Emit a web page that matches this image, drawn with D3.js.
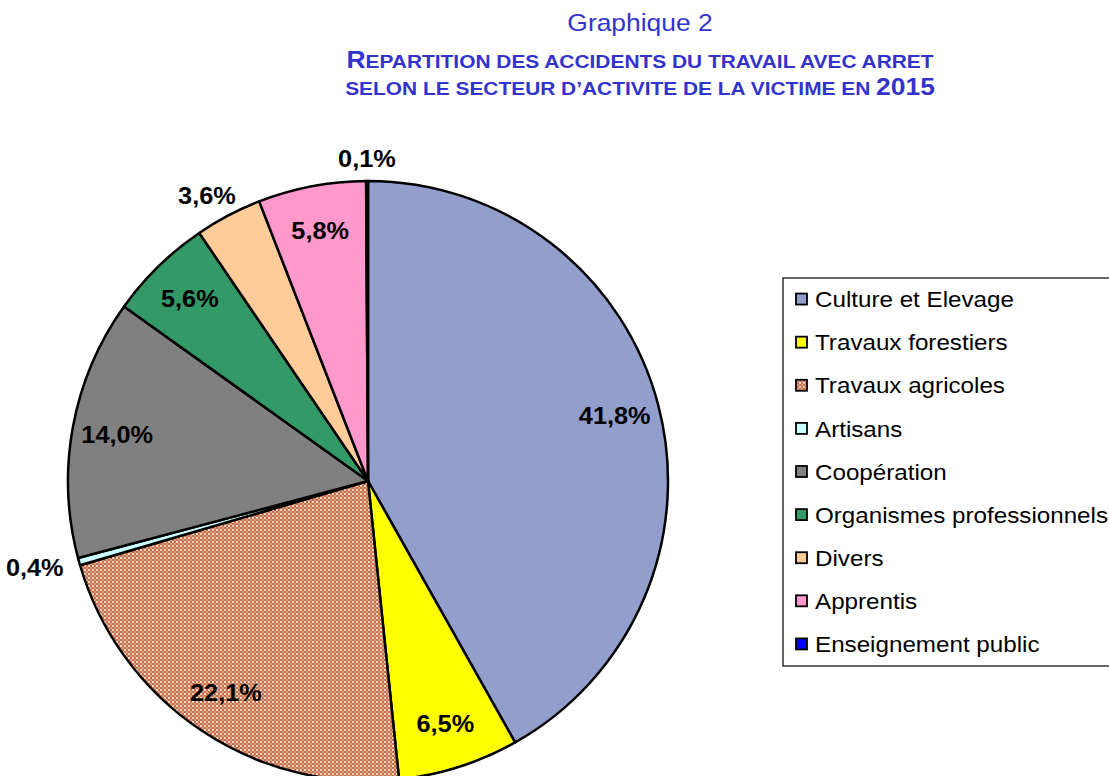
<!DOCTYPE html>
<html>
<head>
<meta charset="utf-8">
<style>
    body { margin: 0; background: #fff; }
    svg { font-family: Arial, 'Liberation Sans', sans-serif; }
</style>
</head>
<body>
<svg width="1109" height="776"></svg>
<script src="https://d3js.org/d3.v7.min.js"></script>
<script>
    // data
    let sectors = ["Culture et Elevage", "Travaux forestiers", "Travaux agricoles", "Artisans",
        "Coopération", "Organismes professionnels", "Divers", "Apprentis", "Enseignement public"]
    let values = [41.8, 6.5, 22.1, 0.4, 14.0, 5.6, 3.6, 5.8, 0.1]
    let labels = ["41,8%", "6,5%", "22,1%", "0,4%", "14,0%", "5,6%", "3,6%", "5,8%", "0,1%"]
    let colors = ["#929fcd", "#ffff00", "url(#agri)", "#ccffff", "#808080", "#339966", "#ffcc99", "#ff99cc", "#0000ff"]

    let width = 1109, height = 776
    let cx = 368, cy = 481, r = 300
    let sx = 1.1 // text in the original looks a bit wide

    let svg = d3.select("svg")

    // checker pattern for "Travaux agricoles"
    let defs = svg.append("defs")
    let pat = defs.append("pattern")
        .attr("id", "agri")
        .attr("patternUnits", "userSpaceOnUse")
        .attr("width", 4).attr("height", 4)
    pat.append("rect").attr("width", 4).attr("height", 4).attr("fill", "#c66b45")
    pat.append("rect").attr("width", 2).attr("height", 2).attr("fill", "#f4dccd")
    pat.append("rect").attr("x", 2).attr("y", 2).attr("width", 2).attr("height", 2).attr("fill", "#dea084")

    // titles
    let title = svg.append("g").attr("fill", "#3333cc").attr("text-anchor", "middle")
    title.append("text").attr("transform", `translate(640,31) scale(${sx},1)`).attr("font-size", 24).text("Graphique 2")
    let t2 = title.append("text").attr("transform", `translate(640,68) scale(${sx},1)`).attr("font-weight", "bold").attr("font-size", 19)
    t2.append("tspan").attr("font-size", 24).text("R")
    t2.append("tspan").text("EPARTITION DES ACCIDENTS DU TRAVAIL AVEC ARRET")
    let t3 = title.append("text").attr("transform", `translate(640,95) scale(${sx},1)`).attr("font-weight", "bold").attr("font-size", 19)
    t3.append("tspan").text("SELON LE SECTEUR D’ACTIVITE DE LA VICTIME EN ")
    t3.append("tspan").attr("font-size", 24).text("2015")

    let pie = d3.pie().sort(null).value(d => d)
    let arcs = pie(values)
    let arc = d3.arc().innerRadius(0).outerRadius(r)

    let g = svg.append("g").attr("transform", `translate(${cx},${cy})`)

    g.selectAll(".slice")
        .data(arcs)
        .join("path")
        .attr("class", "slice")
        .attr("d", arc)
        .attr("fill", (d, i) => colors[i])
        .attr("stroke", "#000")
        .attr("stroke-width", 2.5)
        .attr("stroke-linejoin", "round")

    // labels: inside for big slices, outside for small ones
    function labelPos(d, i) {
        let a = (d.startAngle + d.endAngle) / 2
        if (values[i] >= 5) {
            let k = r * 0.85
            return [Math.sin(a) * k, -Math.cos(a) * k]
        }
        return [Math.sin(a) * (r + 10) + Math.sin(a) * 36, -Math.cos(a) * (r + 10) - Math.cos(a) * 12]
    }

    g.selectAll(".lbl")
        .data(arcs)
        .join("text")
        .attr("class", "lbl")
        .attr("font-size", 23)
        .attr("font-weight", "bold")
        .attr("text-anchor", "middle")
        .attr("dy", "0.35em")
        .attr("transform", (d, i) => {
            let p = labelPos(d, i)
            return `translate(${p[0]},${p[1]}) scale(${sx},1)`
        })
        .text((d, i) => labels[i])

    // legend
    let lg = svg.append("g").attr("transform", "translate(783,278)")
    lg.append("rect")
        .attr("x", 0).attr("y", 0)
        .attr("width", 340).attr("height", 388)
        .attr("fill", "#fff")
        .attr("stroke", "#000")
        .attr("stroke-width", 1.2)

    let row = d3.scaleBand().domain(sectors).range([0, 388]).paddingOuter(0)

    let items = lg.selectAll(".item")
        .data(sectors)
        .join("g")
        .attr("class", "item")
        .attr("transform", d => `translate(0,${row(d) + row.bandwidth() / 2})`)

    items.append("rect")
        .attr("x", 13).attr("y", -6)
        .attr("width", 11).attr("height", 11)
        .attr("fill", (d, i) => colors[i])
        .attr("stroke", "#000")
        .attr("stroke-width", 1.8)

    items.append("text")
        .attr("transform", `translate(32,0) scale(${sx},1)`)
        .attr("dy", "0.35em")
        .attr("font-size", 22)
        .text(d => d)
</script>
</body>
</html>
